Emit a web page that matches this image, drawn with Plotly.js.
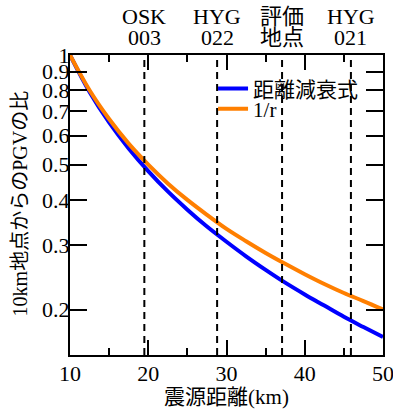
<!DOCTYPE html>
<html>
<head>
<meta charset="utf-8">
<script src="https://cdn.plot.ly/plotly-3.0.1.min.js"></script>
<style>html,body{margin:0;padding:0;background:#fff}#chart{width:393px;height:409px}</style>
</head>
<body>
<div id="chart"></div>
<script>
// Hypocentral distance (km)
var distance = [10, 12.5, 15, 17.5, 20, 22.5, 25, 27.5, 30, 32.5, 35, 37.5, 40, 42.5, 45, 47.5, 50];
// Ratio to PGV at 10 km — attenuation formula
var attenRatio = [1.0, 0.792, 0.653, 0.554, 0.48, 0.422, 0.376, 0.338, 0.307, 0.28, 0.257, 0.237, 0.22, 0.205, 0.191, 0.179, 0.168];
// Ratio to PGV at 10 km — 1/r
var invRRatio = [1.0, 0.8, 0.667, 0.571, 0.5, 0.444, 0.4, 0.364, 0.333, 0.308, 0.286, 0.267, 0.25, 0.235, 0.222, 0.211, 0.2];
// Sites (distance and two-line label)
var siteDist = [19.5, 28.8, 37.1, 45.9];
var siteLabelTop = ['OSK', 'HYG', '評価', 'HYG'];
var siteLabelBottom = ['003', '022', '地点', '021'];
var seriesNames = ['距離減衰式', '1/r'];
var yTickVals = [0.2, 0.3, 0.4, 0.5, 0.6, 0.7, 0.8, 0.9, 1];
var yTickText = ['0.2', '0.3', '0.4', '0.5', '0.6', '0.7', '0.8', '0.9', '1'];
var xTickVals = [10, 20, 30, 40, 50];
var yTitle = '10km地点からのPGVの比';
var xTitle = '震源距離(km)';

var FONT = 'Liberation Serif, Times New Roman, Noto Sans CJK JP, serif';

var traces = [
  {x: distance, y: attenRatio, name: seriesNames[0], mode: 'lines', legend: 'legend',
   line: {color: '#0000ff', width: 4, shape: 'spline', smoothing: 1}},
  {x: distance, y: invRRatio, name: seriesNames[1], mode: 'lines', legend: 'legend2',
   line: {color: '#ff7f00', width: 4, shape: 'spline', smoothing: 1}}
];

var shapes = siteDist.map(function (d) {
  return {type: 'line', xref: 'x', yref: 'paper', x0: d, x1: d, y0: 0, y1: 1,
          line: {color: '#000', width: 2, dash: '7px,5px'}};
});
var annotations = [];
siteDist.forEach(function (d, i) {
  annotations.push({xref: 'x', yref: 'paper', x: d, y: 1, yanchor: 'bottom', yshift: 24,
          text: siteLabelTop[i], showarrow: false, align: 'center',
          font: {family: FONT, size: 22, color: '#000'}});
  annotations.push({xref: 'x', yref: 'paper', x: d, y: 1, yanchor: 'bottom', yshift: 3,
          text: siteLabelBottom[i], showarrow: false, align: 'center',
          font: {family: FONT, size: 22, color: '#000'}});
});
annotations.push({xref: 'paper', yref: 'paper', x: -0.16, y: 0.505, xanchor: 'center', yanchor: 'middle',
          text: yTitle, textangle: -90, showarrow: false,
          font: {family: FONT, size: 20, color: '#000'}});

var legendBase = {x: 0.457, xanchor: 'left', yanchor: 'middle', bgcolor: 'rgba(0,0,0,0)',
           font: {family: FONT, size: 21, color: '#000'}, itemwidth: 30};

var layout = {
  width: 393, height: 409,
  margin: {l: 70, r: 10, t: 55, b: 54},
  paper_bgcolor: '#fff', plot_bgcolor: '#fff',
  font: {family: FONT, size: 22, color: '#000'},
  showlegend: true,
  legend: Object.assign({}, legendBase, {y: 0.887}),
  legend2: Object.assign({}, legendBase, {y: 0.82}),
  xaxis: {range: [10, 50], tickvals: xTickVals, ticks: 'inside', ticklen: 15, tickwidth: 2,
          tickcolor: '#000', showline: true, linewidth: 2, linecolor: '#000', mirror: 'ticks',
          showgrid: false, zeroline: false, tickfont: {family: FONT, size: 22},
          ticklabeloverflow: 'allow', ticklabelstandoff: -2,
          minor: {dtick: 5, ticks: 'inside', ticklen: 7, tickwidth: 2, tickcolor: '#000', showgrid: false},
          title: {text: xTitle, font: {family: FONT, size: 21}, standoff: 4}},
  yaxis: {type: 'log', range: [Math.log10(0.15), 0], tickvals: yTickVals, ticktext: yTickText,
          ticks: 'inside', ticklen: 17, tickwidth: 2, tickcolor: '#000', showline: true,
          linewidth: 2, linecolor: '#000', mirror: 'ticks', showgrid: false, zeroline: false,
          tickfont: {family: FONT, size: 22}, ticklabelstandoff: -6, ticklabeloverflow: 'allow'},
  shapes: shapes,
  annotations: annotations
};

Plotly.newPlot('chart', traces, layout, {displayModeBar: false, staticPlot: true});
</script>
</body>
</html>
